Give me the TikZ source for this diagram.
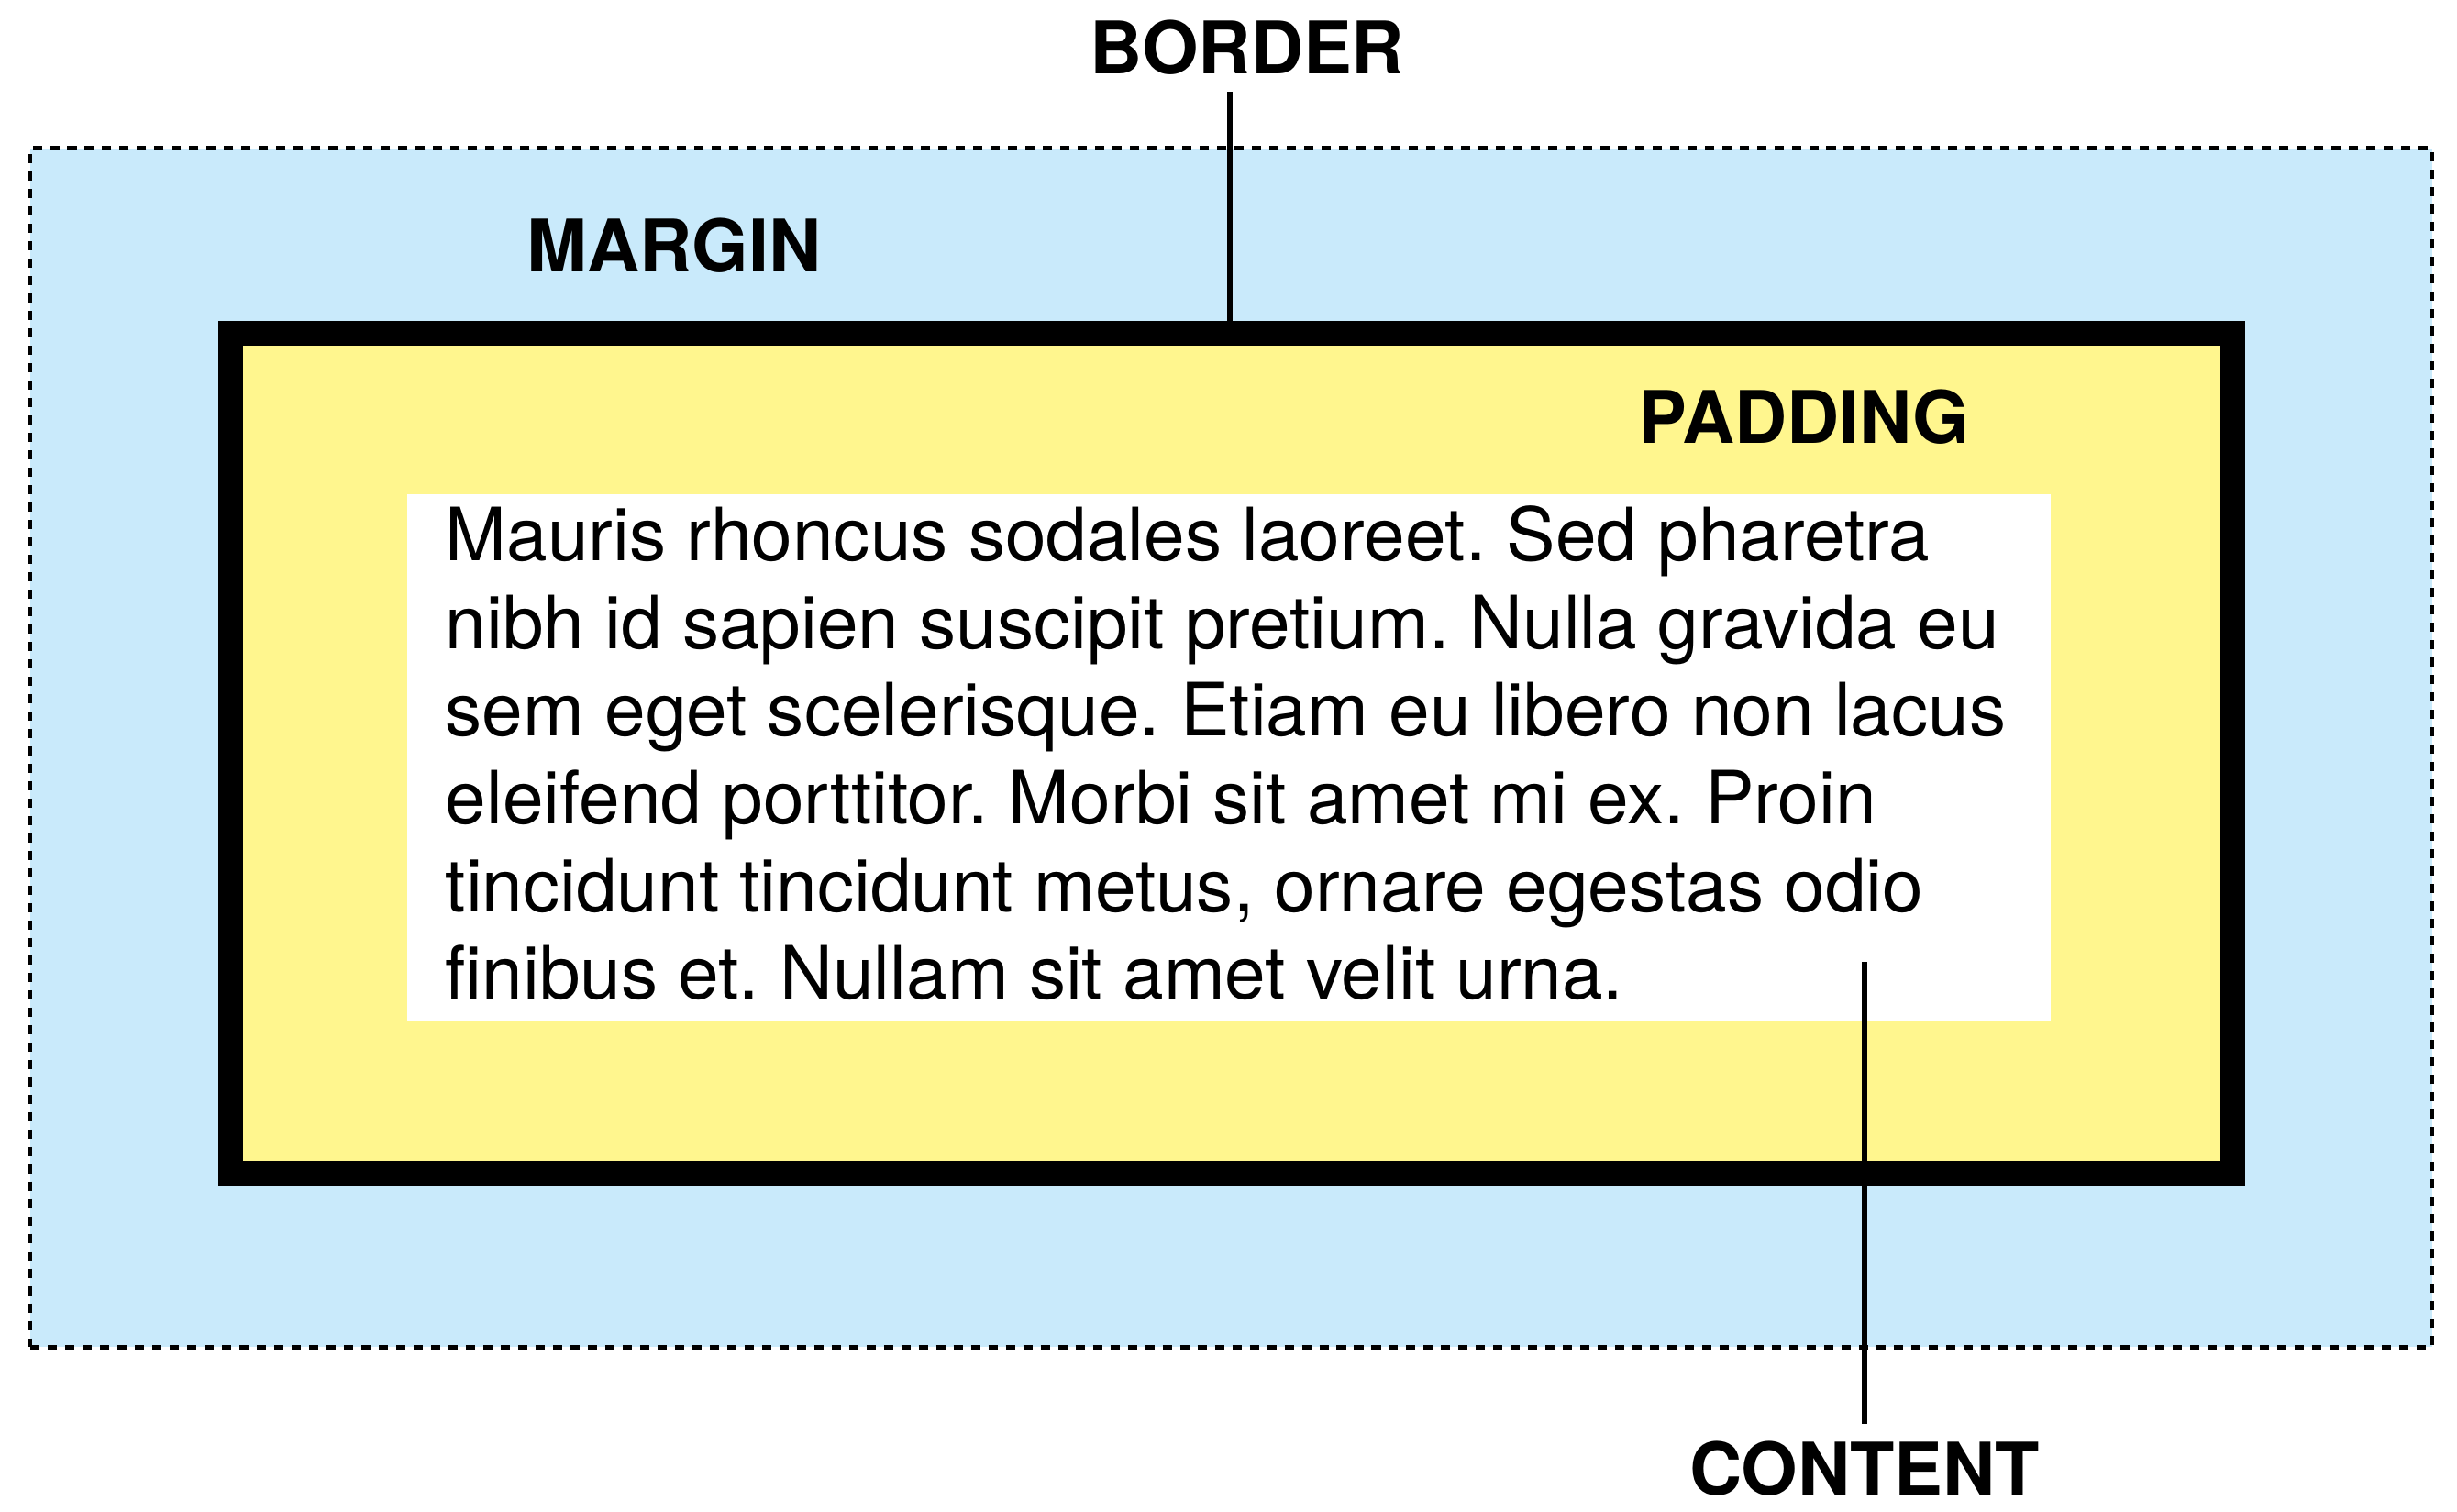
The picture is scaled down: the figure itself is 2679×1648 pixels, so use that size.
\documentclass[tikz,border=0pt]{standalone}
\usepackage{fontspec}
\setmainfont{TeX Gyre Heros}
\definecolor{marginblue}{RGB}{201,234,251}
\definecolor{padyellow}{RGB}{255,246,142}
\tikzset{
  lbl/.style={font=\fontsize{22.5}{26}\selectfont\bfseries, inner sep=0pt, anchor=base},
  bodyline/.style={font=\fontsize{22.8}{27}\selectfont\frenchspacing, inner sep=0pt, anchor=base west},
  leader/.style={line width=1.6pt, black},
}
\begin{document}
\begin{tikzpicture}[x=0.01cm,y=-0.01cm]
\useasboundingbox (0,0) rectangle (2679,1648);
% margin
\node[draw=black, fill=marginblue, line width=1.25pt, dash pattern=on 2.85pt off 2.55pt,
      minimum width=26.17cm, minimum height=13.07cm, inner sep=0pt] (margin) at (1342.5,815.5) {};
% border + padding
\node[draw=black, fill=padyellow, line width=7.7pt,
      minimum width=21.81cm, minimum height=9.16cm, inner sep=0pt, outer sep=0pt] (border) at (1343,821.5) {};
% content
\node[fill=white, minimum width=17.9cm, minimum height=5.75cm, inner sep=0pt] (content) at (1340,826.5) {};
% text lines
\node[bodyline] (t1) at (485,611) {Mauris rhoncus sodales laoreet. Sed pharetra};
\node[bodyline] (t2) at (485,707) {nibh id sapien suscipit pretium. Nulla gravida eu};
\node[bodyline] (t3) at (485,802) {sem eget scelerisque. Etiam eu libero non lacus};
\node[bodyline] (t4) at (485,898) {eleifend porttitor. Morbi sit amet mi ex. Proin};
\node[bodyline] (t5) at (485,994) {tincidunt tincidunt metus, ornare egestas odio};
\node[bodyline] (t6) at (485,1089) {finibus et. Nullam sit amet velit urna.};
% labels
\node[lbl] (lborder) at (1360,80) {BORDER};
\node[lbl] (lmargin) at (735,296) {MARGIN};
\node[lbl] (lpadding) at (1967,483) {PADDING};
\node[lbl] (lcontent) at (2033,1630) {CONTENT};
% leaders
\coordinate (btop) at (1341,100);
\coordinate (bbot) at (1341,350);
\draw[leader] (btop) -- (bbot);
\coordinate (ctop) at (2033,1049);
\coordinate (cbot) at (2033,1553);
\draw[leader] (ctop) -- (cbot);
\end{tikzpicture}
\end{document}
